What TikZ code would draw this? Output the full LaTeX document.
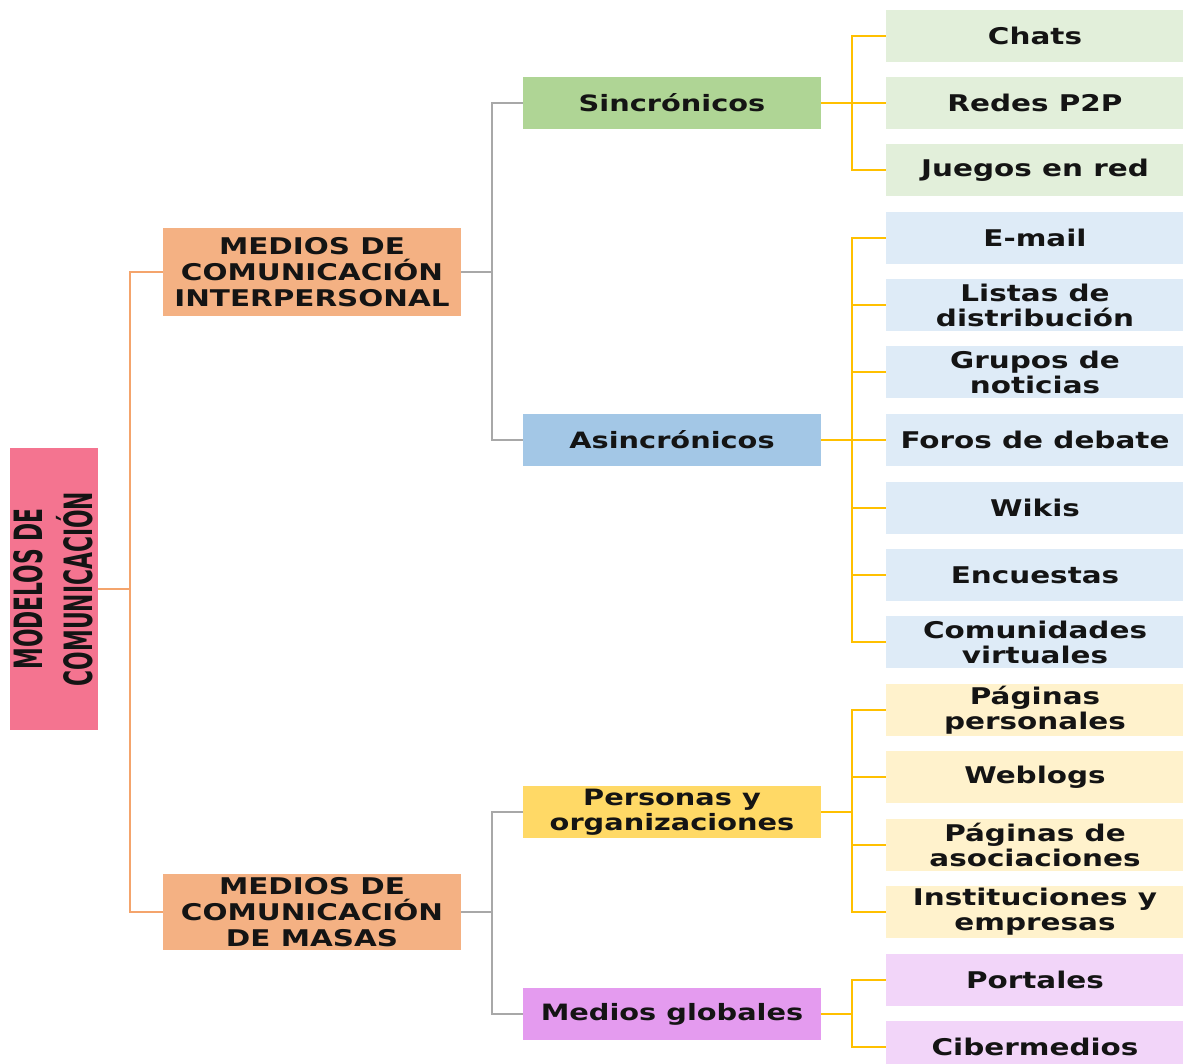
\documentclass[tikz,border=0pt]{standalone}
\usepackage{fontspec}
\setmainfont{DejaVu Sans}[FakeStretch=1.28]
\newfontfamily\rootfont{DejaVu Sans}[FakeStretch=0.56]
\definecolor{rootfill}{HTML}{F47490}
\definecolor{mediafill}{HTML}{F4B183}
\definecolor{syncfill}{HTML}{AFD595}
\definecolor{asyncfill}{HTML}{A3C7E6}
\definecolor{orgfill}{HTML}{FFD966}
\definecolor{globfill}{HTML}{E49BEF}
\definecolor{synclight}{HTML}{E2EFDA}
\definecolor{asynclight}{HTML}{DEEBF7}
\definecolor{orglight}{HTML}{FFF2CC}
\definecolor{globlight}{HTML}{F2D5F9}
\definecolor{orangeline}{HTML}{F4A46C}
\definecolor{grayline}{HTML}{A8A8A8}
\definecolor{yellowline}{HTML}{FFC000}
\begin{document}
\begin{tikzpicture}[x=1pt,y=-1pt,
  box/.style={rectangle,inner sep=0pt,align=center,text=black!92,
    font=\fontsize{23}{25}\selectfont\bfseries},
  rootbox/.style={box,fill=rootfill,minimum width=88pt,minimum height=282pt},
  levelone/.style={box,fill=mediafill,minimum width=298pt,
    font=\fontsize{23}{26}\selectfont\bfseries},
  leveltwo/.style={box,minimum width=298pt,minimum height=52pt,
    font=\fontsize{22.5}{25}\selectfont\bfseries},
  leaf/.style={box,minimum width=298pt,minimum height=52pt},
  oline/.style={draw=orangeline,line width=2.6pt},
  gline/.style={draw=grayline,line width=2.6pt},
  yline/.style={draw=yellowline,line width=2.8pt}]
\useasboundingbox (0,0) rectangle (1183,1064);

% root
\node[rootbox] (root) at (54,589) {};
\node[rotate=90,align=center,inner sep=0pt,text=black!92,
  font=\rootfont\fontsize{39}{50}\selectfont\bfseries] (roottext) at (53,589)
  {MODELOS DE\\COMUNICACIÓN};

% first level
\node[levelone,minimum height=88pt] (inter) at (312,272)
  {MEDIOS DE\\COMUNICACIÓN\\INTERPERSONAL};
\node[levelone,minimum height=76pt] (masas) at (312,912)
  {MEDIOS DE\\COMUNICACIÓN\\DE MASAS};

% second level
\node[leveltwo,fill=syncfill] (sinc) at (672,103) {Sincrónicos};
\node[leveltwo,fill=asyncfill] (asinc) at (672,440) {Asincrónicos};
\node[leveltwo,fill=orgfill] (pers) at (672,812) {Personas y\\organizaciones};
\node[leveltwo,fill=globfill] (glob) at (672,1014) {Medios globales};

% leaves
\node[leaf,fill=synclight] (chats) at (1035,36) {Chats};
\node[leaf,fill=synclight] (p2p) at (1035,103) {Redes P2P};
\node[leaf,fill=synclight] (juegos) at (1035,170) {Juegos en red};
\node[leaf,fill=asynclight] (email) at (1035,238) {E-mail};
\node[leaf,fill=asynclight] (listas) at (1035,305) {Listas de\\distribución};
\node[leaf,fill=asynclight] (grupos) at (1035,372) {Grupos de\\noticias};
\node[leaf,fill=asynclight] (foros) at (1035,440) {Foros de debate};
\node[leaf,fill=asynclight] (wikis) at (1035,508) {Wikis};
\node[leaf,fill=asynclight] (encuestas) at (1035,575) {Encuestas};
\node[leaf,fill=asynclight] (comun) at (1035,642) {Comunidades\\virtuales};
\node[leaf,fill=orglight] (paginas) at (1035,710) {Páginas\\personales};
\node[leaf,fill=orglight] (weblogs) at (1035,777) {Weblogs};
\node[leaf,fill=orglight] (asoc) at (1035,845) {Páginas de\\asociaciones};
\node[leaf,fill=orglight] (inst) at (1035,912) {Instituciones y\\empresas};
\node[leaf,fill=globlight] (portales) at (1035,980) {Portales};
\node[leaf,fill=globlight] (ciber) at (1035,1047) {Cibermedios};

% junctions
\coordinate (jroot) at (130,589);
\coordinate (jinter) at (492,272);
\coordinate (jmasas) at (492,912);
\coordinate (jsinc) at (852,103);
\coordinate (jasinc) at (852,440);
\coordinate (jpers) at (852,812);
\coordinate (jglob) at (852,1014);

% connectors
\draw[oline] (root.east) -- (jroot);
\draw[oline] (inter.west) -| (jroot);
\draw[oline] (masas.west) -| (jroot);

\draw[gline] (inter.east) -- (jinter);
\draw[gline] (sinc.west) -| (jinter);
\draw[gline] (asinc.west) -| (jinter);
\draw[gline] (masas.east) -- (jmasas);
\draw[gline] (pers.west) -| (jmasas);
\draw[gline] (glob.west) -| (jmasas);

\draw[yline] (sinc.east) -- (jsinc);
\foreach \n in {chats,p2p,juegos} \draw[yline] (\n.west) -| (jsinc);
\draw[yline] (asinc.east) -- (jasinc);
\foreach \n in {email,listas,grupos,foros,wikis,encuestas,comun}
  \draw[yline] (\n.west) -| (jasinc);
\draw[yline] (pers.east) -- (jpers);
\foreach \n in {paginas,weblogs,asoc,inst} \draw[yline] (\n.west) -| (jpers);
\draw[yline] (glob.east) -- (jglob);
\foreach \n in {portales,ciber} \draw[yline] (\n.west) -| (jglob);
\end{tikzpicture}
\end{document}
